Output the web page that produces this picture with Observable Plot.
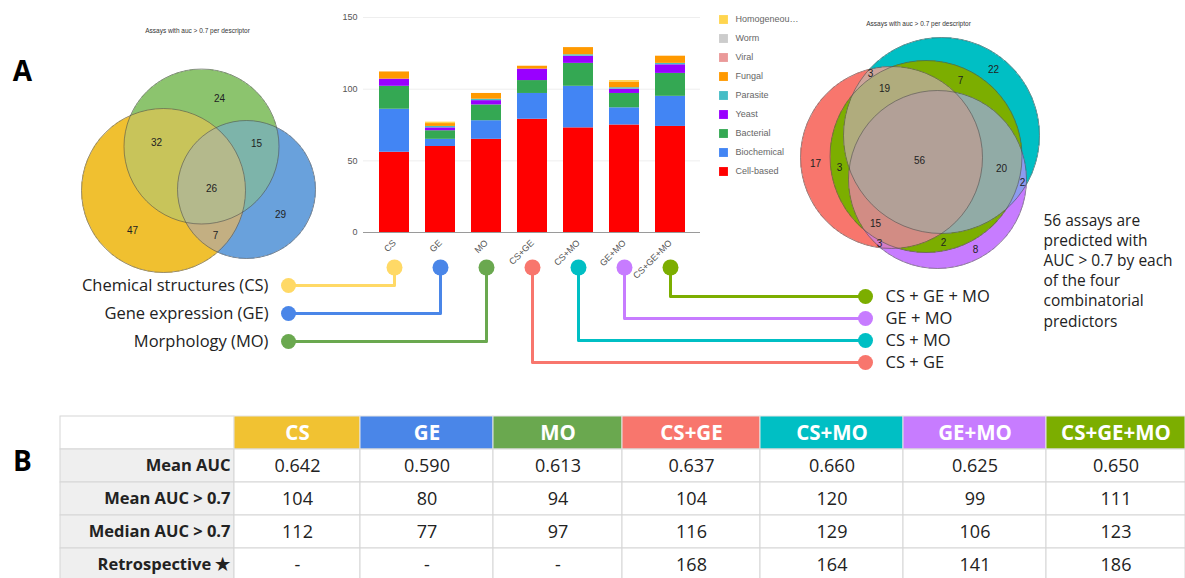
<!DOCTYPE html>
<html>
<head>
<meta charset="utf-8">
<script src="https://cdn.jsdelivr.net/npm/d3@7"></script>
<script src="https://cdn.jsdelivr.net/npm/@observablehq/plot@0.6"></script>
<style>
  body { margin: 0; background: #fff; }
  #page { position: relative; width: 1185px; height: 578px; overflow: hidden; background: #fff; }
  #page > div { position: absolute; }
  #overlay { pointer-events: none; z-index: 5; }
</style>
</head>
<body>
<div id="page">
  <div id="bars" style="left:330px;top:0px"></div>
  <div id="legend" style="left:705px;top:8px"></div>
  <div id="table" style="left:0px;top:400px"></div>
  <div id="overlay" style="left:0px;top:0px"></div>
</div>
<script>
// ---------- data ----------
const categories = ["CS", "GE", "MO", "CS+GE", "CS+MO", "GE+MO", "CS+GE+MO"];
const assayTypes = ["Cell-based", "Biochemical", "Bacterial", "Yeast", "Parasite", "Fungal", "Viral", "Worm", "Homogeneous"];

// assays with AUC > 0.7 per predictor, by assay type
const cellBased   = [56, 60, 65, 79, 73, 75, 74];
const biochemical = [30, 5, 13, 18, 29, 12, 21];
const bacterial   = [16, 6, 11, 9, 16, 10, 16];
const yeast       = [5, 2, 3, 8, 5, 3, 6];
const parasite    = [0, 1, 1, 0, 1, 1, 1];
const fungal      = [5, 2, 4, 2, 5, 4, 5];
const viral       = [0, 0, 0, 0, 0, 0, 0];
const worm        = [0, 0, 0, 0, 0, 0, 0];
const homogeneous = [0, 1, 0, 0, 0, 1, 0];
const yTicks = [0, 50, 100, 150];

// single descriptors: sets CS (0), MO (1), GE (2); region keys list member set indices
const leftVennTitle = "Assays with auc > 0.7 per descriptor";
const leftVennSets = ["CS", "MO", "GE"];
const leftVennRegions = ["0", "1", "2", "01", "12", "02", "012"];
const leftVennCounts = [47, 24, 29, 32, 15, 7, 26];

// combined predictors: CS+GE (0), CS+MO (1), GE+MO (2), CS+GE+MO (3)
const rightVennTitle = "Assays with auc > 0.7 per descriptor";
const rightVennSets = ["CS+GE", "CS+MO", "GE+MO", "CS+GE+MO"];
const rightVennRegions = ["0", "1", "2", "01", "02", "12", "03", "13", "23", "013", "023", "123", "0123"];
const rightVennCounts = [17, 22, 8, 3, 3, 2, 3, 7, 2, 19, 15, 20, 56];

const descriptorNames = ["Chemical structures (CS)", "Gene expression (GE)", "Morphology (MO)"];
const comboNames = ["CS + GE", "CS + MO", "GE + MO", "CS + GE + MO"];

const rowLabels = ["Mean AUC", "Mean AUC > 0.7", "Median AUC > 0.7", "Retrospective \u2605"];
const meanAUC = [0.642, 0.590, 0.613, 0.637, 0.660, 0.625, 0.650];
const meanAUCAbove = [104, 80, 94, 104, 120, 99, 111];
const medianAUCAbove = [112, 77, 97, 116, 129, 106, 123];
const retrospective = [null, null, null, 168, 164, 141, 186];

// ---------- styles & layout ----------
const typeColors = ["#ff0000", "#4285f4", "#34a853", "#9900ff", "#46bdc6", "#ff9900", "#ea9999", "#cccccc", "#ffd54f"];
const connectorColors = ["#ffd966", "#4a86e8", "#6aa84f", "#f8766d", "#00bfc4", "#c77cff", "#7cae00"];
const headerColors = ["#f1c232", "#4a86e8", "#6aa84f", "#f8766d", "#00bfc4", "#c77cff", "#7cae00"];
const labelFont = "'Open Sans', Lato, sans-serif";
const chartFont = "'Liberation Sans', Arial, sans-serif";

const W = 1185, H = 578;
const BAR_LEFT = 330;

const leftVennLayout = {
  circles: [{cx: 163, cy: 190, r: 82}, {cx: 201, cy: 146, r: 77.5}, {cx: 246, cy: 189, r: 69}],
  box: [76, 62, 320, 276],
  titleAt: [197, 30],
  colors: {"0": "#f0c030", "1": "#8cc46e", "2": "#69a1dc", "01": "#c8c45a", "12": "#7db4aa", "02": "#c3af82", "012": "#b4b98c"}
};
const rightVennLayout = {
  circles: [{cx: 891, cy: 157, r: 91}, {cx: 941, cy: 135, r: 98}, {cx: 937, cy: 179, r: 89}, {cx: 925.5, cy: 156, r: 96}],
  box: [796, 34, 1044, 272],
  titleAt: [918, 23],
  colors: {
    "0": "#f8766d", "1": "#00bfc4", "2": "#c77cff", "3": "#7cae00",
    "01": "#cda59b", "02": "#d57cc8", "12": "#8c9bf0",
    "03": "#7cae00", "13": "#7cae00", "23": "#7cae00",
    "013": "#b0ac7d", "023": "#d28c84", "123": "#91aba6", "012": "#b2a097", "0123": "#b2a097"
  }
};

// ---------- bar chart ----------
const seriesValues = [cellBased, biochemical, bacterial, yeast, parasite, fungal, viral, worm, homogeneous];
const barData = assayTypes.flatMap((type, t) =>
  categories.map((category, i) => ({category, type, count: seriesValues[t][i]})));

const barPlot = Plot.plot({
  width: 380, height: 265,
  marginLeft: 33, marginRight: 10, marginTop: 17, marginBottom: 33,
  style: {background: "transparent", fontFamily: chartFont, fontSize: "9px", color: "#555", overflow: "visible"},
  x: {domain: categories, paddingInner: 0.35, paddingOuter: 0.175, insetLeft: 7, insetRight: 7,
      label: null, tickSize: 0, tickRotate: -45, tickPadding: 9},
  y: {domain: [0, 150], ticks: yTicks, grid: true, label: null, tickSize: 0, tickPadding: 6},
  color: {domain: assayTypes, range: typeColors},
  marks: [
    Plot.barY(barData, {x: "category", y: "count", fill: "type", order: assayTypes}),
    Plot.ruleY([0], {stroke: "#9a9a9a", strokeWidth: 1})
  ]
});
document.getElementById("bars").appendChild(barPlot);

// ---------- legend ----------
const legendOrder = assayTypes.slice().reverse();
const measureCtx = document.createElement("canvas").getContext("2d");
measureCtx.font = "9px 'Liberation Sans', Arial, sans-serif";
// clip names wider than the legend column, marking the cut with an ellipsis
function fitLabel(s, maxWidth = 55) {
  if (measureCtx.measureText(s).width <= maxWidth) return s;
  let t = s;
  while (t.length > 1 && measureCtx.measureText(t).width > maxWidth) t = t.slice(0, -1);
  return t + "\u2026";
}
const legendPlot = Plot.plot({
  width: 110, height: 175, margin: 0,
  style: {background: "transparent"},
  x: {axis: null},
  y: {type: "point", domain: legendOrder, range: [10, 163], padding: 0, axis: null},
  color: {domain: assayTypes, range: typeColors},
  marks: [
    Plot.dot(legendOrder, {y: (d) => d, fill: (d) => d, symbol: "square", r: 5, frameAnchor: "left", dx: 18}),
    Plot.text(legendOrder, {y: (d) => d, text: (d) => fitLabel(d), frameAnchor: "left", dx: 30, textAnchor: "start",
      fill: "#666", fontSize: 9, fontFamily: chartFont})
  ]
});
document.getElementById("legend").appendChild(legendPlot);

// ---------- table ----------
const colWidths = [126, 133, 129, 138, 143, 143, 139];
const labelCol = [60, 234];
const colEdges = [labelCol[1]];
colWidths.forEach((w) => colEdges.push(colEdges[colEdges.length - 1] + w));
const rowKeys = ["header", ...rowLabels];
const rowValues = [meanAUC, meanAUCAbove, medianAUCAbove, retrospective];
const rowFormats = [d3.format(".3f"), String, String, String];

const headerCells = categories.map((c, i) => ({row: "header", x1: colEdges[i], x2: colEdges[i + 1], text: c, fill: headerColors[i]}));
const valueCells = rowLabels.flatMap((label, r) => categories.map((c, i) => ({
  row: label, x1: colEdges[i], x2: colEdges[i + 1],
  text: rowValues[r][i] == null ? "-" : rowFormats[r](rowValues[r][i])
})));
const labelCells = rowKeys.map((row) => ({row, x1: labelCol[0], x2: labelCol[1], fill: row === "header" ? "#ffffff" : "#efefef"}));

const tablePlot = Plot.plot({
  width: W, height: 178, margin: 0,
  style: {background: "transparent"},
  x: {domain: [0, W], range: [0, W], axis: null},
  y: {type: "band", domain: rowKeys, range: [14, 14 + 5 * 33.6], padding: 0, axis: null},
  color: {type: "identity"},
  marks: [
    Plot.barX(labelCells, {x1: "x1", x2: "x2", y: "row", fill: "fill", stroke: "#d6d6d6", strokeWidth: 1}),
    Plot.barX(headerCells, {x1: "x1", x2: "x2", y: "row", fill: "fill", stroke: "#e4e4e4", strokeWidth: 1}),
    Plot.barX(valueCells, {x1: "x1", x2: "x2", y: "row", fill: "#ffffff", stroke: "#d6d6d6", strokeWidth: 1}),
    Plot.text(headerCells, {x: (d) => (d.x1 + d.x2) / 2, y: "row", text: "text", fill: "#ffffff",
      fontSize: 20.5, fontWeight: "bold", fontFamily: labelFont}),
    Plot.text(valueCells, {x: (d) => (d.x1 + d.x2) / 2, y: "row", text: "text", fill: "#222",
      fontSize: 18, fontFamily: labelFont}),
    Plot.text(rowLabels, {x: labelCol[1], y: (d) => d, text: (d) => d, dx: -4, textAnchor: "end",
      fill: "#222", fontSize: 16.5, fontWeight: "bold", fontFamily: labelFont})
  ]
});
document.getElementById("table").appendChild(tablePlot);

// ---------- Venn helpers ----------
function membership(layout, x, y) {
  let key = "";
  layout.circles.forEach((c, i) => { if (Math.hypot(x - c.cx, y - c.cy) < c.r) key += i; });
  return key;
}
// put each count where its region is widest (largest clearance from every outline)
function regionLabels(layout, regions, counts) {
  const best = new Map();
  const [x0, y0, x1, y1] = layout.box;
  for (let y = y0; y <= y1; y += 1) {
    for (let x = x0; x <= x1; x += 1) {
      const key = membership(layout, x, y);
      if (!key) continue;
      const clear = d3.min(layout.circles, (c) => Math.abs(Math.hypot(x - c.cx, y - c.cy) - c.r));
      const b = best.get(key);
      if (!b || clear > b.clear) best.set(key, {x, y, clear});
    }
  }
  return regions.map((key, i) => ({...best.get(key), text: String(counts[i])})).filter((d) => d.x != null);
}
function vennMarks(layout, regions, counts, title) {
  const [x0, y0, x1, y1] = layout.box;
  const marks = [];
  if (Plot.raster) {
    marks.push(Plot.raster({
      x1: x0, y1: y0, x2: x1, y2: y1, width: x1 - x0, height: y1 - y0,
      fill: (x, y) => { const k = membership(layout, x, y); return k ? (layout.colors[k] || "#b2a097") : null; }
    }));
  } else {
    marks.push(Plot.dot(layout.circles, {x: "cx", y: "cy", r: "r", fill: (d, i) => layout.colors[String(i)], fillOpacity: 0.6}));
  }
  marks.push(Plot.dot(layout.circles, {x: "cx", y: "cy", r: "r", fill: "none", stroke: "#4a4a4a", strokeWidth: 0.7, strokeOpacity: 0.8}));
  marks.push(Plot.text(regionLabels(layout, regions, counts), {x: "x", y: "y", text: "text",
    fill: "#222", fontSize: 10, fontFamily: chartFont}));
  marks.push(Plot.text([title], {x: layout.titleAt[0], y: layout.titleAt[1], text: (d) => d,
    fill: "#333", fontSize: 6.5, fontFamily: chartFont}));
  return marks;
}

// ---------- connectors ----------
const xScale = barPlot.scale("x");
const TOP_Y = 267;
const LEFT_END = 288, RIGHT_END = 865;
const connectors = categories.map((c, i) => {
  const left = i < 3;
  return {
    id: c,
    color: connectorColors[i],
    x0: BAR_LEFT + xScale.apply(c) + xScale.bandwidth / 2,
    xEnd: left ? LEFT_END : RIGHT_END,
    y: left ? 285 + 28 * i : 296 + 22 * (categories.length - 1 - i),
    label: left ? descriptorNames[i] : comboNames[i - 3],
    left
  };
});
const connectorPath = connectors.flatMap((d) => [
  {id: d.id, color: d.color, x: d.x0, y: TOP_Y},
  {id: d.id, color: d.color, x: d.x0, y: d.y},
  {id: d.id, color: d.color, x: d.xEnd, y: d.y}
]);

const allFour = rightVennCounts[rightVennRegions.indexOf("0123")];
const note = `${allFour} assays are\npredicted with\nAUC > 0.7 by each\nof the four\ncombinatorial\npredictors`;

const overlay = Plot.plot({
  width: W, height: H, margin: 0,
  style: {background: "transparent", overflow: "visible"},
  x: {domain: [0, W], range: [0, W], axis: null},
  y: {domain: [0, H], range: [0, H], axis: null},
  r: {type: "identity"},
  color: {type: "identity"},
  marks: [
    ...vennMarks(leftVennLayout, leftVennRegions, leftVennCounts, leftVennTitle),
    ...vennMarks(rightVennLayout, rightVennRegions, rightVennCounts, rightVennTitle),
    Plot.line(connectorPath, {x: "x", y: "y", z: "id", stroke: "color", strokeWidth: 3, strokeLinejoin: "round"}),
    Plot.dot(connectors, {x: "x0", y: TOP_Y, r: 8, fill: "color"}),
    Plot.dot(connectors, {x: "xEnd", y: "y", r: 7.5, fill: "color"}),
    Plot.text(connectors.filter((d) => d.left), {x: "xEnd", y: "y", text: "label", dx: -20, textAnchor: "end",
      fill: "#222", fontSize: 16.5, fontFamily: labelFont}),
    Plot.text(connectors.filter((d) => !d.left), {x: "xEnd", y: "y", text: "label", dx: 20, textAnchor: "start",
      fill: "#222", fontSize: 16.5, fontFamily: labelFont}),
    Plot.text([note], {x: 1043, y: 211, text: (d) => d, textAnchor: "start", lineAnchor: "top", lineHeight: 1.3,
      fill: "#222", fontSize: 15.5, fontFamily: labelFont}),
    Plot.text(["A", "B"], {x: 22, y: (d) => d === "A" ? 72 : 462, text: (d) => d, fill: "#000",
      fontSize: 28, fontWeight: "bold", fontFamily: labelFont})
  ]
});
document.getElementById("overlay").appendChild(overlay);
</script>
</body>
</html>
